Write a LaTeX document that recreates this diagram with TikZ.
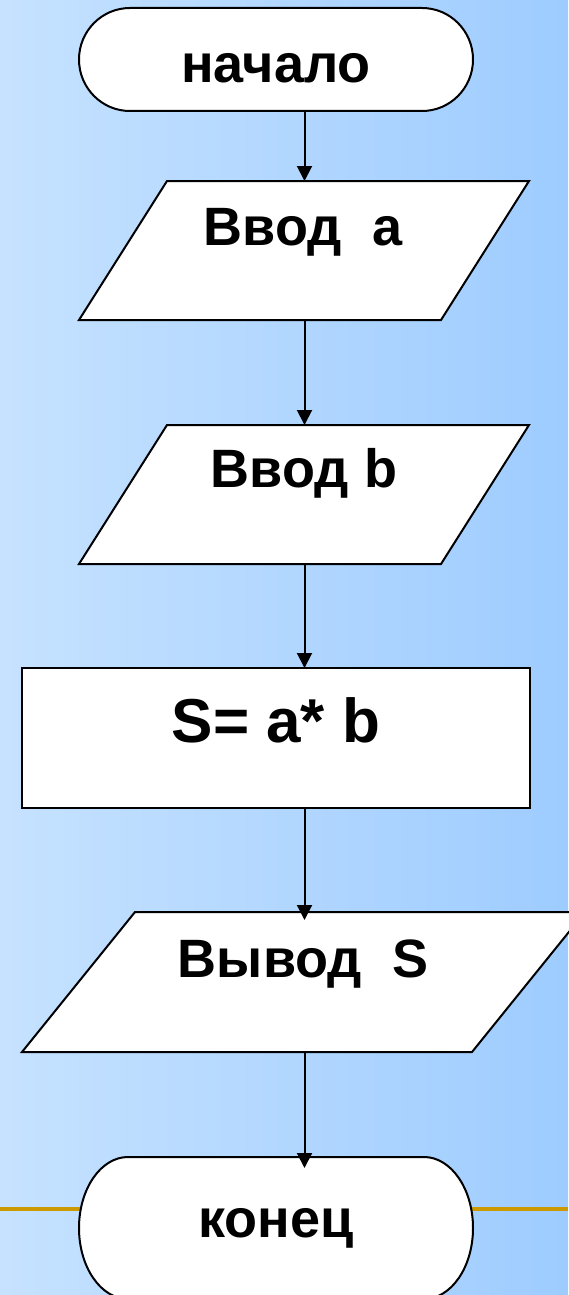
\documentclass[tikz,border=0pt]{standalone}
\usepackage{fontspec}
\setmainfont{Liberation Sans}
\usetikzlibrary{arrows.meta}
\definecolor{bgL}{RGB}{198,226,255}
\definecolor{bgR}{RGB}{158,204,255}
\definecolor{gold}{RGB}{204,153,0}
\begin{document}
\begin{tikzpicture}[x=1pt,y=-1pt,
  frame/.style={draw=none, fill=none, inner sep=0pt, outer sep=0pt, rectangle},
  outline/.style={draw=black, line width=2pt, fill=white, line join=miter},
  arr/.style={draw=black, line width=2pt, -{Triangle[width=15pt,length=15pt]}},
  lbl/.style={font=\fontsize{54}{60}\selectfont\bfseries, anchor=base, inner sep=0pt},
  lblbig/.style={font=\fontsize{62}{68}\selectfont\bfseries, anchor=base, inner sep=0pt}]
\useasboundingbox (0,0) rectangle (568,1295);
\fill[left color=bgL, right color=bgR] (0,0) rectangle (568,1295);
\coordinate (gl) at (0,1209);
\coordinate (gr) at (568,1209);
\draw[gold, line width=4pt] (gl) -- (gr);
\coordinate (axis) at (304.5,0);
% frames
\node[frame, minimum width=394pt, minimum height=103pt] (n0) at (276,59.5) {};
\node[frame, minimum width=450pt, minimum height=139pt] (p1) at (304,250.5) {};
\node[frame, minimum width=450pt, minimum height=139pt] (p2) at (304,494.5) {};
\node[frame, minimum width=508pt, minimum height=140pt] (r) at (276,738) {};
\node[frame, minimum width=563pt, minimum height=140pt] (p3) at (303.5,982) {};
\node[frame, minimum width=394pt, minimum height=142pt] (k) at (276,1228) {};
% shapes
\draw[outline] ([xshift=51pt]n0.north west) -- ([xshift=-51pt]n0.north east)
  arc[start angle=90, end angle=-90, x radius=51pt, y radius=51.5pt]
  -- ([xshift=51pt]n0.south west)
  arc[start angle=270, end angle=90, x radius=51pt, y radius=51.5pt] -- cycle;
\draw[outline] ([xshift=88pt]p1.north west) -- (p1.north east)
  -- ([xshift=-88pt]p1.south east) -- (p1.south west) -- cycle;
\draw[outline] ([xshift=88pt]p2.north west) -- (p2.north east)
  -- ([xshift=-88pt]p2.south east) -- (p2.south west) -- cycle;
\draw[outline] (r.north west) rectangle (r.south east);
\draw[outline] ([xshift=113pt]p3.north west) -- (p3.north east)
  -- ([xshift=-113pt]p3.south east) -- (p3.south west) -- cycle;
\draw[outline] ([xshift=49pt]k.north west) -- ([xshift=-49pt]k.north east)
  arc[start angle=90, end angle=-90, x radius=49pt, y radius=71pt]
  -- ([xshift=49pt]k.south west)
  arc[start angle=270, end angle=90, x radius=49pt, y radius=71pt] -- cycle;
% connectors
\draw[arr] (n0.south -| axis) -- (p1.north -| axis);
\draw[arr] (p1.south -| axis) -- (p2.north -| axis);
\draw[arr] (p2.south -| axis) -- (r.north -| axis);
\draw[arr, shorten >=-8pt] (r.south -| axis) -- (p3.north -| axis);
\draw[arr, shorten >=-11pt] (p3.south -| axis) -- (k.north -| axis);
% labels
\node[lbl] (t0) at (276,83) {начало};
\node[lbl] (t1) at (303,245) {Ввод\ \ a};
\node[lbl] (t2) at (304,487) {Ввод b};
\node[lblbig] (t3) at (276,742) {S= a* b};
\node[lbl] (t4) at (303,977) {Вывод\ \ S};
\node[lbl] (t5) at (276,1237) {конец};
\end{tikzpicture}
\end{document}
